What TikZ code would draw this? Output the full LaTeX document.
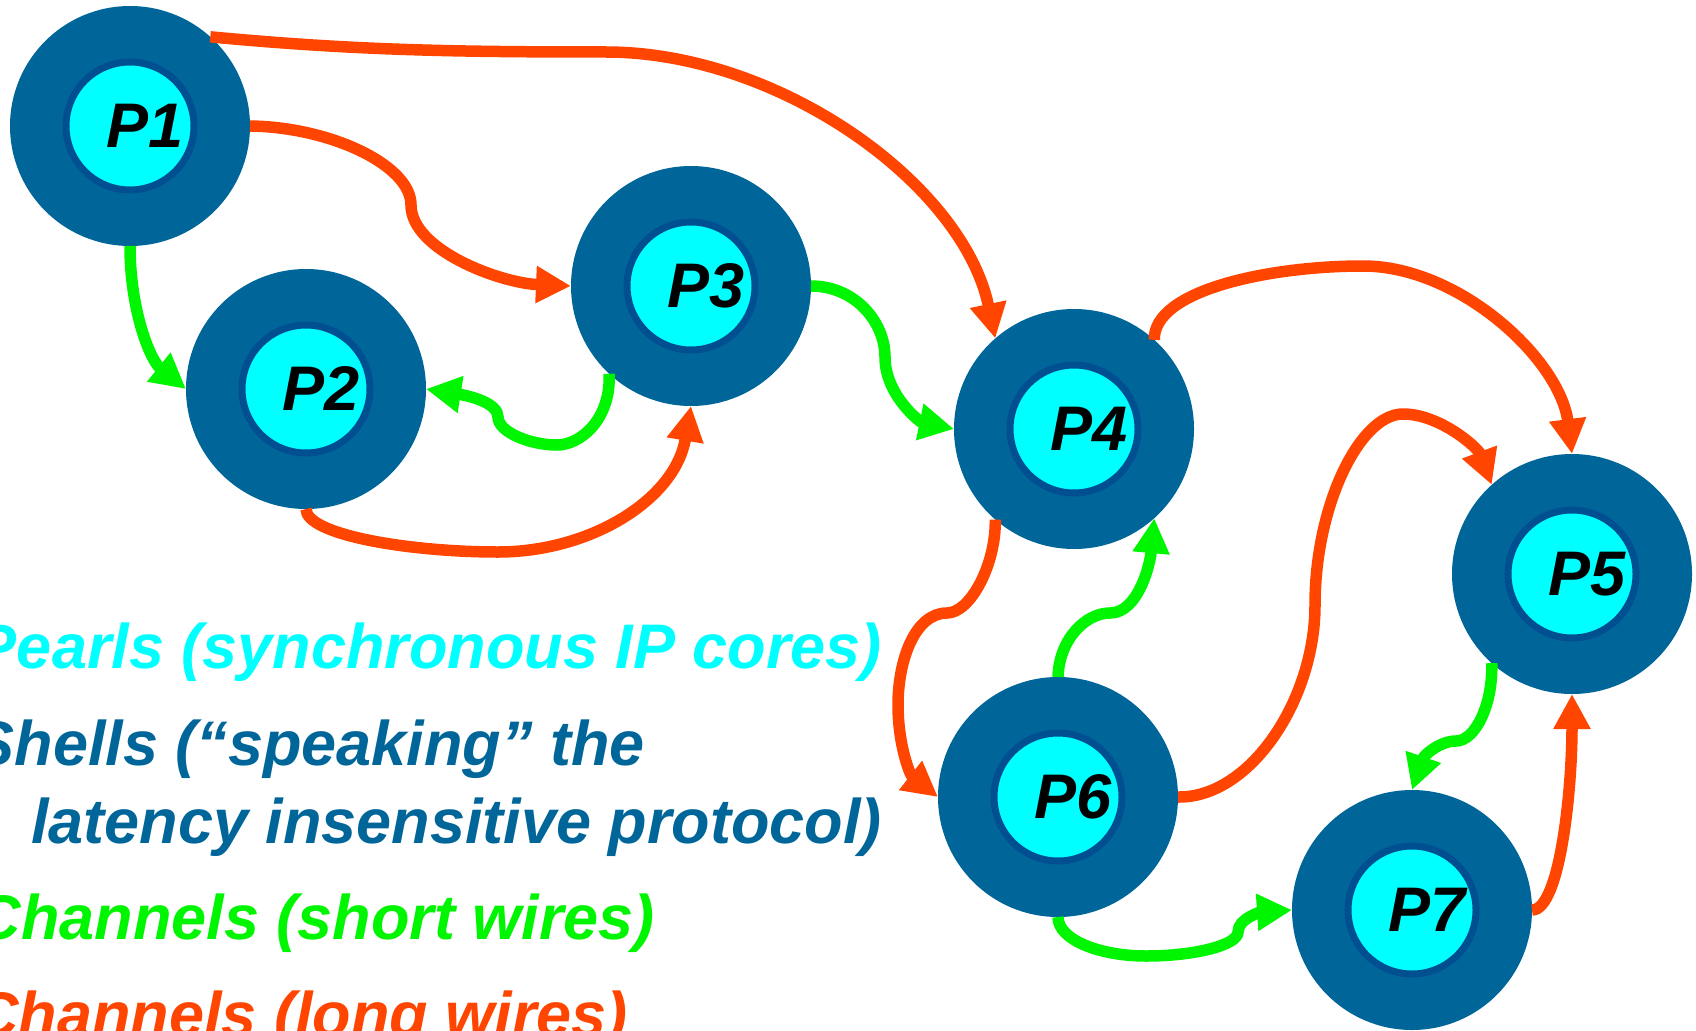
\documentclass[tikz,border=0pt]{standalone}
\usepackage{fontspec}
\setmainfont{Liberation Sans}
\usetikzlibrary{arrows.meta}
\definecolor{shellblue}{RGB}{0,102,153}
\definecolor{ringblue}{RGB}{0,80,145}
\definecolor{pearlcyan}{RGB}{0,255,255}
\definecolor{shortgreen}{RGB}{0,245,0}
\definecolor{longred}{RGB}{255,69,0}
\begin{document}
\begin{tikzpicture}[x=1pt,y=-1pt,
 shell/.style={circle,fill=shellblue,minimum size=240pt,inner sep=0pt,outer sep=0pt},
 pearl/.style={circle,fill=pearlcyan,draw=ringblue,line width=7pt,minimum size=128pt,inner sep=0pt},
 lbl/.style={font=\fontsize{63pt}{70pt}\selectfont\bfseries\itshape,text=black,inner sep=0pt},
 legend/.style={font=\fontsize{63pt}{70pt}\selectfont\bfseries\itshape,inner sep=0pt,anchor=base east},
 longwire/.style={draw=longred,line width=11.5pt,-{Triangle[length=35pt,width=35pt]}},
 shortwire/.style={draw=shortgreen,line width=11.5pt,-{Triangle[length=35pt,width=35pt]}},
]
\useasboundingbox (0,0) rectangle (1696,1030);
\clip (0,0) rectangle (1696,1030);

% nodes
\foreach \n/\x/\y in {1/130/126, 2/306/389, 3/691/286, 4/1074/429, 5/1572/574, 6/1058/797, 7/1412/910}{
  \node[shell] (p\n) at (\x,\y) {};
  \node[pearl] (p\n i) at (p\n) {};
  \node[lbl] (p\n t) at ([xshift=15pt]p\n.center) {P\n};
}

% legend
\node[legend,text=pearlcyan] (lg1) at (882,668) {Pearls (synchronous IP cores)};
\node[legend,text=shellblue] (lg2) at (645,765) {Shells (“speaking” the};
\node[legend,text=shellblue] (lg3) at (882,843) {latency insensitive protocol)};
\node[legend,text=shortgreen] (lg4) at (655,939) {Channels (short wires)};
\node[legend,text=longred] (lg5) at (628,1036) {Channels (long wires)};

% connectors
\draw[longwire] (p1.48) .. controls (350,50) and (450,52) .. (606,52) .. controls (779,52) and (963,184) .. (p4.131);
\draw[longwire] (p1.0) .. controls (330,127) and (411,165) .. (411,205) .. controls (411,250) and (500,283) .. (p3.180);
\draw[shortwire] (p1.270) .. controls (130,310) and (150,360) .. (p2.180);
\draw[longwire] (p2.270) .. controls (306,535) and (410,552) .. (498,552) .. controls (590,552) and (675,500) .. (p3.270);
\draw[shortwire] (p3.227) .. controls (611,420) and (580,445) .. (557,445) .. controls (530,445) and (498,432) .. (498,417) .. controls (498,403) and (470,396) .. (p2.0);
\draw[shortwire] (p3.0) .. controls (855,286) and (885,322) .. (885,357) .. controls (885,395) and (920,422) .. (p4.180);
\draw[longwire] (p4.48) .. controls (1153,290) and (1270,266) .. (1363,266) .. controls (1460,266) and (1560,360) .. (p5.90);
\draw[longwire] (p4.229) .. controls (996,565) and (970,613) .. (947,613) .. controls (915,613) and (898,660) .. (898,705) .. controls (898,745) and (910,775) .. (p6.180);
\draw[shortwire] (p6.90) .. controls (1059,640) and (1085,613) .. (1110,613) .. controls (1138,613) and (1150,565) .. (p4.312);
\draw[longwire] (p6.0) .. controls (1250,798) and (1315,700) .. (1315,605) .. controls (1315,505) and (1360,414) .. (1403,414) .. controls (1440,414) and (1478,448) .. (p5.132);
\draw[shortwire] (p5.228) .. controls (1493,705) and (1475,741) .. (1456,741) .. controls (1440,741) and (1424,755) .. (p7.90);
\draw[longwire] (p7.0) .. controls (1560,910) and (1572,790) .. (p5.270);
\draw[shortwire] (p6.270) .. controls (1058,940) and (1100,956) .. (1146,956) .. controls (1195,956) and (1238,945) .. (1238,932) .. controls (1238,918) and (1262,912) .. (p7.180);
\end{tikzpicture}
\end{document}
